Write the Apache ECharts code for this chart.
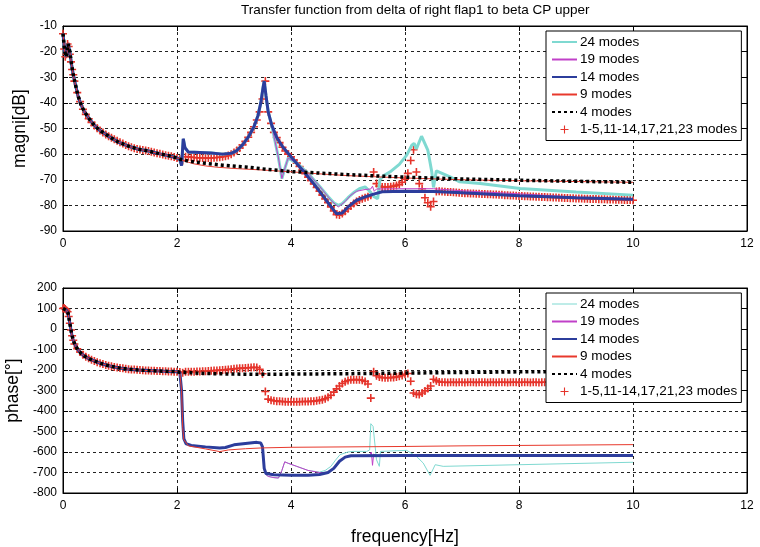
<!DOCTYPE html>
<html>
<head>
<meta charset="utf-8">
<script src="https://cdn.jsdelivr.net/npm/echarts@6/dist/echarts.min.js"></script>
<style>html,body{margin:0;padding:0;background:#fff}#c{width:760px;height:547px}</style>
</head>
<body>
<div id="c"></div>
<script>
// ---------- tick / axis settings ----------
const xTicks = [0, 2, 4, 6, 8, 10, 12];
const magTicks = [-90, -80, -70, -60, -50, -40, -30, -20, -10];
const phaseTicks = [-800, -700, -600, -500, -400, -300, -200, -100, 0, 100, 200];
const seriesNames = ['24 modes', '19 modes', '14 modes', '9 modes', '4 modes', '1-5,11-14,17,21,23 modes'];

// ---------- common low-frequency part of the line curves ----------
const lowF   = [0, 0.03, 0.06, 0.09, 0.12, 0.15, 0.18, 0.22, 0.26, 0.32, 0.38, 0.46, 0.55, 0.65, 0.8, 0.96, 1.15, 1.32, 1.5, 1.7, 1.85, 2.0];
const lowMag = [-13, -20, -22, -17, -20, -25, -29, -33, -37, -41, -43.6, -46.2, -48.8, -50.8, -53, -55.2, -56.9, -58.1, -58.8, -59.9, -60.6, -61.5];
const lowPh  = [100, 100, 92, 77, 28, -21, -55, -82, -100, -120, -133, -146, -156, -167, -179, -189, -196, -200, -203, -205, -207, -208];

// ---------- magnitude [dB], continuation above 2 Hz ----------
const m24F = [2.05, 2.08, 2.11, 2.14, 2.2, 2.4, 2.6, 2.8, 2.95, 3.05, 3.15, 3.25, 3.35, 3.42, 3.47, 3.51, 3.53, 3.56, 3.6, 3.66, 3.72, 3.78, 3.84, 3.9, 3.95, 4.1, 4.3, 4.5, 4.65, 4.75, 4.83, 4.9, 5.0, 5.1, 5.2, 5.3, 5.38, 5.45, 5.52, 5.56, 5.62, 5.74, 5.9, 6.03, 6.12, 6.16, 6.2, 6.29, 6.4, 6.47, 6.5, 6.55, 6.65, 6.8, 6.96, 7.32, 8.02, 9, 10];
const m24V = [-62, -64.5, -54, -57.5, -59.2, -59.4, -59.6, -60, -59.7, -58.6, -56.4, -53.4, -49.3, -45, -40, -34, -31.5, -37, -43.5, -48.7, -55, -61.5, -69.5, -65, -61.5, -63.5, -67.5, -72.5, -76.5, -79, -80, -79.3, -77, -75, -73.5, -72.8, -74.5, -76.5, -77.4, -70, -68.5, -66.9, -64, -60.4, -56.5, -55.8, -58, -53, -58.4, -67, -73, -66.5, -67.5, -69, -70.8, -71.5, -73.4, -74.8, -76];
const m19F = [2.05, 2.08, 2.11, 2.14, 2.2, 2.4, 2.6, 2.8, 2.95, 3.05, 3.15, 3.25, 3.35, 3.42, 3.47, 3.51, 3.53, 3.56, 3.6, 3.66, 3.72, 3.78, 3.84, 3.9, 3.95, 4.1, 4.3, 4.5, 4.7, 4.83, 4.95, 5.05, 5.15, 5.3, 5.4, 5.43, 5.46, 5.5, 6.0, 6.5, 7, 8, 9, 10];
const m19V = [-62, -64.5, -54, -57.5, -59.2, -59.4, -59.6, -60, -59.7, -58.6, -56.4, -53.4, -49.3, -45, -40, -34, -31.5, -37, -43.5, -48.7, -55, -61.5, -69.5, -65, -61.5, -63.5, -67.5, -72.5, -78, -80.6, -78.5, -76, -74.5, -73.8, -73.6, -72.5, -74.5, -73.6, -73.5, -73.5, -74.3, -75.5, -76.8, -77.8];
const m14F = [2.05, 2.08, 2.11, 2.14, 2.2, 2.4, 2.6, 2.8, 2.95, 3.05, 3.15, 3.25, 3.35, 3.42, 3.47, 3.51, 3.53, 3.56, 3.6, 3.66, 3.75, 3.85, 4.0, 4.2, 4.4, 4.6, 4.8, 4.9, 5.0, 5.15, 5.3, 5.45, 5.6, 6.0, 6.5, 7, 8, 9, 10];
const m14V = [-62, -64.5, -54, -57.5, -59.2, -59.4, -59.6, -60, -59.7, -58.6, -56.4, -53.4, -49.3, -45, -40, -34, -31.5, -37, -43.5, -48.5, -53.5, -57, -61, -66.2, -71.6, -77.5, -83.3, -83, -80.6, -78, -76.7, -75.6, -74.7, -74.5, -74.6, -75.1, -76.2, -77, -77.6];
const m9F  = [2.05, 2.1, 2.3, 2.5, 2.7, 3.0, 3.5, 4.0, 4.5, 5.0, 6.0, 7.0, 8.0, 9.0, 10];
const m9V  = [-61.8, -62.5, -63.8, -64.6, -65.1, -65.6, -66.2, -66.9, -67.7, -68.4, -69.3, -70, -70.4, -70.7, -71];
const m4F  = [2.05, 2.2, 2.5, 2.8, 3.2, 3.6, 4.0, 4.5, 5.0, 6.0, 7.0, 8.0, 9.0, 10];
const m4V  = [-62, -62.7, -63.6, -64.3, -65, -66, -66.8, -67.4, -68, -69, -69.7, -70.2, -70.6, -71];

// ---------- phase [deg], continuation above 2 Hz ----------
const p24F = [2.05, 2.08, 2.1, 2.12, 2.16, 2.25, 2.5, 2.75, 2.85, 3.0, 3.2, 3.4, 3.47, 3.5, 3.53, 3.56, 3.6, 3.7, 3.78, 3.84, 3.89, 3.95, 4.1, 4.3, 4.5, 4.6, 4.7, 4.78, 4.86, 5.0, 5.09, 5.33, 5.38, 5.4, 5.44, 5.5, 5.55, 5.57, 6.03, 6.2, 6.32, 6.44, 6.53, 6.67, 7, 8, 9, 10];
const p24V = [-212, -300, -450, -535, -560, -568, -575, -581, -578, -565, -558, -553, -556, -575, -680, -710, -719, -725, -727, -690, -648, -655, -670, -690, -698, -690, -670, -640, -613, -600, -597, -597, -590, -462, -475, -638, -670, -597, -592, -621, -654, -714, -662, -670, -668, -662, -656, -650];
const p19F = [2.05, 2.08, 2.1, 2.12, 2.16, 2.25, 2.5, 2.75, 2.85, 3.0, 3.2, 3.4, 3.47, 3.5, 3.53, 3.56, 3.6, 3.7, 3.78, 3.84, 3.89, 3.95, 4.1, 4.3, 4.5, 4.63, 4.75, 4.86, 4.95, 5.05, 5.38, 5.41, 5.43, 5.45, 5.5, 10];
const p19V = [-212, -300, -450, -535, -560, -568, -575, -581, -578, -565, -558, -553, -556, -575, -680, -710, -719, -725, -727, -690, -648, -655, -670, -690, -700, -703, -680, -640, -625, -618, -616, -600, -665, -610, -618, -617];
const p14F = [2.05, 2.08, 2.1, 2.12, 2.16, 2.25, 2.5, 2.75, 2.85, 3.0, 3.2, 3.4, 3.47, 3.5, 3.53, 3.56, 3.7, 4.0, 4.3, 4.5, 4.65, 4.75, 4.85, 4.95, 5.05, 6, 8, 10];
const p14V = [-212, -300, -450, -535, -560, -568, -575, -581, -578, -565, -558, -553, -556, -575, -680, -705, -711, -714, -714, -710, -700, -680, -645, -625, -618, -617, -617, -617];
const p9F  = [2.05, 2.08, 2.1, 2.12, 2.2, 2.5, 2.75, 2.9, 3.2, 3.5, 4, 5, 6, 7, 8, 9, 10];
const p9V  = [-215, -300, -480, -540, -570, -585, -598, -590, -584, -580, -577, -575, -573, -570, -568, -566, -564];
const p4F  = [2.05, 2.5, 3, 3.5, 4, 5, 6, 7, 8, 9, 10];
const p4V  = [-211, -217, -220, -221, -220, -218, -215, -212, -209, -207, -205];

// ---------- marker series (1-5,11-14,17,21,23 modes) ----------
const mkF = [0, 0.02, 0.04, 0.06, 0.08, 0.1, 0.12, 0.14, 0.16, 0.18, 0.2,
  0.25, 0.3, 0.35, 0.4, 0.45, 0.5, 0.55, 0.6, 0.65, 0.7, 0.75, 0.8, 0.85, 0.9, 0.95,
  1, 1.05, 1.1, 1.15, 1.2, 1.25, 1.3, 1.35, 1.4, 1.45, 1.5, 1.55, 1.6, 1.65, 1.7, 1.75, 1.8, 1.85, 1.9, 1.95,
  2, 2.05, 2.1, 2.15, 2.2, 2.25, 2.3, 2.35, 2.4, 2.45, 2.5, 2.55, 2.6, 2.65, 2.7, 2.75, 2.8, 2.85, 2.9, 2.95,
  3, 3.05, 3.1, 3.15, 3.2, 3.25, 3.3, 3.35, 3.4, 3.45, 3.5, 3.55, 3.6, 3.65, 3.7, 3.75, 3.8, 3.85, 3.9, 3.95,
  4, 4.05, 4.1, 4.15, 4.2, 4.25, 4.3, 4.35, 4.4, 4.45, 4.5, 4.55, 4.6, 4.65, 4.7, 4.75, 4.8, 4.85, 4.9, 4.95,
  5, 5.05, 5.1, 5.15, 5.2, 5.25, 5.3, 5.35, 5.4, 5.45, 5.5, 5.55, 5.6, 5.65, 5.7, 5.75, 5.8, 5.85, 5.9, 5.95,
  6, 6.05, 6.1, 6.15, 6.2, 6.25, 6.3, 6.35, 6.4, 6.45, 6.5, 6.55, 6.6, 6.65, 6.7, 6.75, 6.8, 6.85, 6.9, 6.95,
  7, 7.05, 7.1, 7.15, 7.2, 7.25, 7.3, 7.35, 7.4, 7.45, 7.5, 7.55, 7.6, 7.65, 7.7, 7.75, 7.8, 7.85, 7.9, 7.95,
  8, 8.05, 8.1, 8.15, 8.2, 8.25, 8.3, 8.35, 8.4, 8.45, 8.5, 8.55, 8.6, 8.65, 8.7, 8.75, 8.8, 8.85, 8.9, 8.95,
  9, 9.05, 9.1, 9.15, 9.2, 9.25, 9.3, 9.35, 9.4, 9.45, 9.5, 9.55, 9.6, 9.65, 9.7, 9.75, 9.8, 9.85, 9.9, 9.95,
  10];
const mkMag = [-13, -19, -22, -21, -17, -18, -21, -24, -27, -29, -31.5,
  -36, -39.5, -42.5, -44.5, -46.2, -47.6, -48.8, -49.9, -50.8, -51.6, -52.3, -53, -53.6, -54.2, -54.8,
  -55.4, -55.9, -56.4, -56.9, -57.3, -57.7, -58.0, -58.2, -58.4, -58.6, -58.8, -59.1, -59.4, -59.7, -59.9, -60.1, -60.4, -60.6, -60.8, -61.1,
  -61.5, -62, -62.5, -61, -61, -61.2, -61.3, -61.4, -61.4, -61.5, -61.5, -61.5, -61.5, -61.4, -61.3, -61.2, -61.0, -60.8, -60.5, -60.0,
  -59.4, -58.6, -57.6, -56.4, -55, -53.4, -51.5, -49.3, -46.7, -43.5, -38.5, -31.5, -43.5, -48, -51.5, -53.5, -55.5, -57.3, -58.8, -60,
  -61, -62.3, -63.5, -64.8, -66.2, -67.6, -69, -70.3, -71.6, -73, -74.5, -76, -77.5, -79, -80.6, -82.2, -83.6, -83.8, -83.2, -82.3,
  -81.3, -80.2, -79.3, -78.5, -77.9, -77.4, -77, -76.6, -76, -67, -71.5, -72.5, -72.8, -72.8, -72.8, -72.7, -72.5, -72.2, -71.8, -71,
  -69.8, -67.5, -62.5, -58.3, -67, -71.5, -73.5, -77, -79, -80.5, -78.5, -74.6, -74.5, -74.6, -74.7, -74.8, -74.8, -74.9, -75, -75.1,
  -75.2, -75.3, -75.3, -75.4, -75.4, -75.5, -75.5, -75.6, -75.6, -75.7, -75.7, -75.8, -75.8, -75.9, -75.9, -76, -76, -76.1, -76.1, -76.2,
  -76.3, -76.3, -76.4, -76.4, -76.5, -76.5, -76.6, -76.6, -76.7, -76.7, -76.8, -76.8, -76.9, -76.9, -77, -77, -77.1, -77.1, -77.2, -77.2,
  -77.3, -77.3, -77.3, -77.4, -77.4, -77.5, -77.5, -77.5, -77.6, -77.6, -77.6, -77.7, -77.7, -77.7, -77.8, -77.8, -77.8, -77.9, -77.9, -77.9,
  -78];
const mkPh = [100, 102, 98, 92, 84, 61, 28, -5, -33, -55, -73,
  -96, -112, -125, -135, -143, -150, -156, -162, -167, -171, -175, -179, -182, -185, -188,
  -190, -192, -194, -196, -197, -198, -199, -200, -201, -202, -203, -204, -204, -205, -205, -206, -206, -207, -207, -208,
  -208, -210, -213, -209, -208, -208, -208, -207, -207, -206, -206, -205, -204, -203, -202, -201, -200, -199, -197, -196,
  -194, -193, -192, -191, -190, -189, -188, -187, -188, -196, -218, -305, -342, -347, -350, -352, -353, -354, -355, -355,
  -355, -355, -355, -355, -354, -354, -354, -353, -352, -350, -348, -345, -340, -333, -323, -308, -292, -278, -266, -257,
  -251, -248, -247, -247, -248, -250, -256, -268, -337, -208, -228, -234, -237, -238, -238, -237, -236, -234, -231, -227,
  -221, -217, -255, -312, -318, -320, -312, -302, -290, -278, -245, -252, -258, -260, -260, -261, -260, -260, -261, -260,
  -260, -261, -260, -260, -260, -261, -260, -260, -260, -261, -260, -260, -261, -260, -260, -260, -261, -260, -260, -260,
  -261, -260, -260, -260, -261, -260, -260, -261, -260, -260, -260, -261, -260, -260, -260, -261, -260, -260, -261, -260,
  -260, -260, -261, -260, -260, -260, -261, -260, -260, -261, -260, -260, -260, -261, -260, -260, -260, -261, -260, -260,
  -260];

// ---------- build ----------
const FONT = "'Liberation Sans', Arial, Helvetica, sans-serif";
const COL = { c24: '#7fd9d1', c19: '#c040c8', c14: '#2c3d9c', c9: '#e8392c', c4: '#000000', mk: '#e5332a' };

function pairs(fa, va) { const n = Math.min(fa.length, va.length); const out = []; for (let i = 0; i < n; i++) out.push([fa[i], va[i]]); return out; }
function withLow(lf, lv, f, v) { return pairs(lf.concat(f), lv.concat(v)); }

const plus = 'path://M0,5L10,5M5,0L5,10';

function lineS(name, gi, data, color, width, type) {
  return { name, type: 'line', xAxisIndex: gi, yAxisIndex: gi, data, symbol: 'none', showSymbol: false,
    lineStyle: { color, width, type: type || 'solid', cap: 'butt' }, itemStyle: { color }, animation: false, clip: true };
}
function markS(name, gi, data) {
  return { name, type: 'scatter', xAxisIndex: gi, yAxisIndex: gi, data, symbol: plus, symbolSize: 8,
    itemStyle: { color: 'rgba(0,0,0,0)', borderColor: COL.mk, borderWidth: 1.6, opacity: 1 }, animation: false, clip: true, large: false };
}

const series = [
  lineS(seriesNames[0], 0, withLow(lowF, lowMag, m24F, m24V), COL.c24, 3),
  lineS(seriesNames[1], 0, withLow(lowF, lowMag, m19F, m19V), COL.c19, 1),
  lineS(seriesNames[2], 0, withLow(lowF, lowMag, m14F, m14V), COL.c14, 3),
  lineS(seriesNames[3], 0, withLow(lowF, lowMag, m9F, m9V), COL.c9, 1),
  lineS(seriesNames[4], 0, withLow(lowF, lowMag, m4F, m4V), COL.c4, 3.5, [3, 3]),
  markS(seriesNames[5], 0, pairs(mkF, mkMag)),
  lineS(seriesNames[0], 1, withLow(lowF, lowPh, p24F, p24V), COL.c24, 1),
  lineS(seriesNames[1], 1, withLow(lowF, lowPh, p19F, p19V), COL.c19, 1),
  lineS(seriesNames[2], 1, withLow(lowF, lowPh, p14F, p14V), COL.c14, 3),
  lineS(seriesNames[3], 1, withLow(lowF, lowPh, p9F, p9V), COL.c9, 1),
  lineS(seriesNames[4], 1, withLow(lowF, lowPh, p4F, p4V), COL.c4, 3.5, [3, 3]),
  markS(seriesNames[5], 1, pairs(mkF, mkPh))
];

const tickStyle = { show: true, inside: true, length: 5, lineStyle: { color: '#000' } };
function xAx(gi, named) {
  return { gridIndex: gi, type: 'value', min: xTicks[0], max: xTicks[xTicks.length - 1], interval: xTicks[1] - xTicks[0],
    name: named ? 'frequency[Hz]' : '', nameLocation: 'middle', nameGap: 35,
    nameTextStyle: { fontSize: 17.5, color: '#000', fontFamily: FONT },
    axisLine: { show: true, onZero: false, lineStyle: { color: '#000', width: 1 } },
    axisTick: tickStyle,
    axisLabel: { fontSize: 12, color: '#000', margin: 7, fontFamily: FONT },
    splitLine: { show: true, lineStyle: { color: '#222', width: 1, type: [3, 3] } } };
}
function yAx(gi, ticks, name) {
  return { gridIndex: gi, type: 'value', min: ticks[0], max: ticks[ticks.length - 1], interval: ticks[1] - ticks[0],
    name, nameLocation: 'middle', nameGap: 34, nameRotate: 90,
    nameTextStyle: { fontSize: 17.5, color: '#000', fontFamily: FONT },
    axisLine: { show: true, onZero: false, lineStyle: { color: '#000', width: 1 } },
    axisTick: tickStyle,
    axisLabel: { fontSize: 12, color: '#000', margin: 6, fontFamily: FONT },
    splitLine: { show: true, lineStyle: { color: '#222', width: 1, type: [3, 3] } } };
}
// mirror axes (tick marks only) on top / right of each box
function xMirror(gi) {
  return { gridIndex: gi, type: 'value', position: 'top', min: xTicks[0], max: xTicks[xTicks.length - 1], interval: xTicks[1] - xTicks[0],
    axisLine: { show: true, onZero: false, lineStyle: { color: '#000' } }, axisTick: tickStyle, axisLabel: { show: false }, splitLine: { show: false } };
}
function yMirror(gi, ticks) {
  return { gridIndex: gi, type: 'value', position: 'right', min: ticks[0], max: ticks[ticks.length - 1], interval: ticks[1] - ticks[0],
    axisLine: { show: true, onZero: false, lineStyle: { color: '#000' } }, axisTick: tickStyle, axisLabel: { show: false }, splitLine: { show: false } };
}

function legendData(bottom) {
  return seriesNames.map((n, i) => {
    if (i === 5) return { name: n, icon: plus, itemStyle: { color: 'rgba(0,0,0,0)', borderColor: COL.mk, borderWidth: 1.1 } };
    const d = { name: n, itemStyle: { opacity: 0 } };
    if (bottom && i === 0) d.lineStyle = { width: 1 };
    return d;
  });
}
function legend(top, bottom) {
  return { data: legendData(bottom), orient: 'vertical', left: 546, top, selectedMode: false,
    backgroundColor: '#fff', borderColor: '#000', borderWidth: 1, padding: [4, 4, 4, 5],
    itemWidth: 25, itemHeight: 8, itemGap: 3.5, inactiveColor: '#000',
    textStyle: { fontSize: 13.5, color: '#000', fontFamily: FONT, lineHeight: 14, padding: [0, 0, 0, -2] } };
}

const gridBase = { left: 63, right: 13, height: 205, show: true, borderColor: '#000', borderWidth: 1, backgroundColor: '#fff',
  containLabel: false, outerBoundsMode: 'none' };

const option = {
  animation: false,
  backgroundColor: '#fff',
  textStyle: { fontFamily: FONT },
  title: { text: 'Transfer function from delta of right flap1 to beta CP upper', left: 241, top: 3, padding: 0,
    textStyle: { fontSize: 13.5, fontWeight: 'normal', color: '#000', fontFamily: FONT } },
  grid: [
    Object.assign({ top: 26 }, gridBase),
    Object.assign({ top: 288 }, gridBase)
  ],
  xAxis: [xAx(0, false), xAx(1, true), xMirror(0), xMirror(1)],
  yAxis: [yAx(0, magTicks, 'magni[dB]'), yAx(1, phaseTicks, 'phase[°]'), yMirror(0, magTicks), yMirror(1, phaseTicks)],
  legend: [legend(31, false), legend(293, true)],
  series
};

const chart = echarts.init(document.getElementById('c'), null, { renderer: 'canvas' });
chart.setOption(option);
</script>
</body>
</html>
